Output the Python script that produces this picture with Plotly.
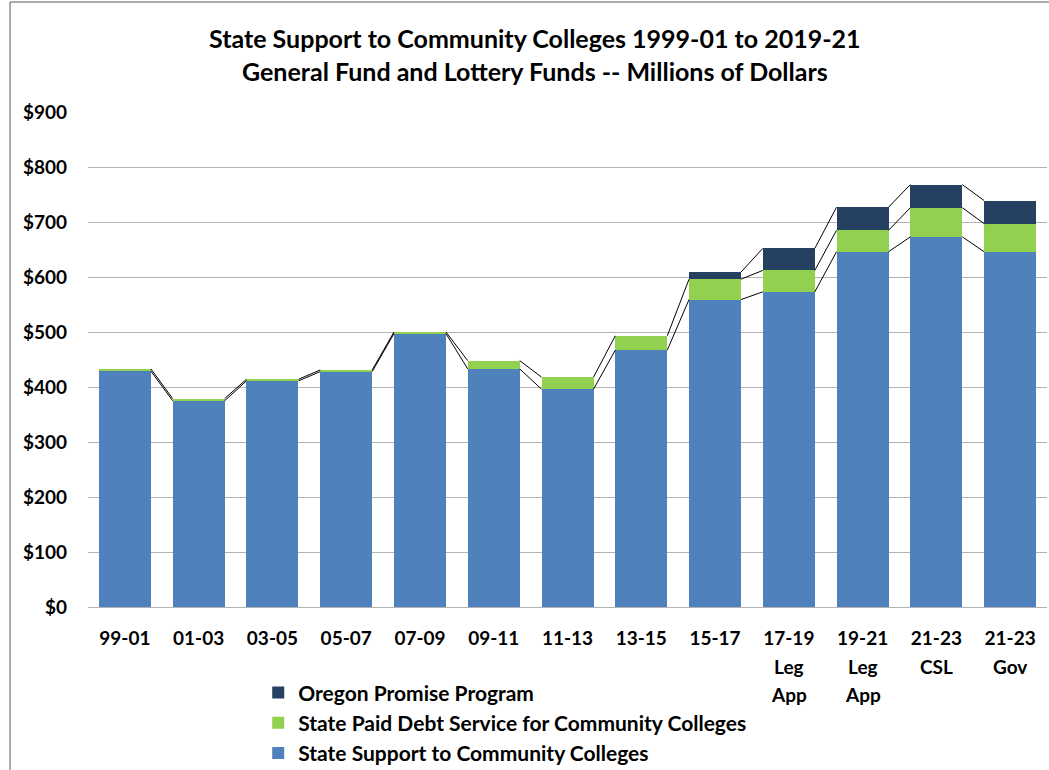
import plotly.graph_objects as go

# ---- data ----
periods = ["99-01", "01-03", "03-05", "05-07", "07-09", "09-11", "11-13",
           "13-15", "15-17", "17-19", "19-21", "21-23", "21-23"]
period_line2 = ["", "", "", "", "", "", "", "", "", "Leg", "Leg", "CSL", "Gov"]
period_line3 = ["", "", "", "", "", "", "", "", "", "App", "App", "", ""]

state_support = [429, 375, 411, 428, 497, 433, 396, 467, 559, 573, 646, 673, 646]
debt_service = [4, 4, 3, 3, 3, 15, 22, 26, 37, 39, 39, 53, 51]
oregon_promise = [None, None, None, None, None, None, None, None, 13, 40, 42, 42, 42]

y_ticks = [0, 100, 200, 300, 400, 500, 600, 700, 800, 900]
y_ticktext = ["$" + str(v) for v in y_ticks]

# ---- style ----
C_SUPPORT = "#4F81BD"
C_DEBT = "#92D050"
C_PROMISE = "#254061"
BAR_W = 0.705
FONT = "Lato"
FS = 19
LEG_FS = 21
TITLE_FS = 25

xs = list(range(len(periods)))

fig = go.Figure()
fig.add_trace(go.Bar(x=xs, y=state_support, name="State Support to Community Colleges",
                     marker=dict(color=C_SUPPORT, line=dict(width=0)), width=BAR_W,
                     legendrank=3))
fig.add_trace(go.Bar(x=xs, y=debt_service, name="State Paid Debt Service for Community Colleges",
                     marker=dict(color=C_DEBT, line=dict(width=0)), width=BAR_W,
                     legendrank=2))
fig.add_trace(go.Bar(x=xs, y=[v if v is not None else 0 for v in oregon_promise],
                     name="Oregon Promise Program",
                     marker=dict(color=C_PROMISE, line=dict(width=0)), width=BAR_W,
                     legendrank=1))

# series lines connecting the tops of each stacked segment
lvl1 = state_support
lvl2 = [a + b for a, b in zip(state_support, debt_service)]
lvl3 = [None if p is None else a + p for a, p in zip(lvl2, oregon_promise)]
for lvl in (lvl1, lvl2, lvl3):
    lx, ly = [], []
    for i in range(len(lvl) - 1):
        if lvl[i] is None or lvl[i + 1] is None:
            continue
        lx += [i + BAR_W / 2, i + 1 - BAR_W / 2, None]
        ly += [lvl[i], lvl[i + 1], None]
    fig.add_trace(go.Scatter(x=lx, y=ly, mode="lines", line=dict(color="#000000", width=1),
                             showlegend=False, hoverinfo="skip"))

annotations = []
# extra tick label lines
for i, (l2, l3) in enumerate(zip(period_line2, period_line3)):
    if l2:
        annotations.append(dict(x=i, y=0, xref="x", yref="y", text=l2, showarrow=False,
                                yanchor="middle", yshift=-59,
                                font=dict(family=FONT, size=FS, color="#000", weight="bold")))
    if l3:
        annotations.append(dict(x=i, y=0, xref="x", yref="y", text=l3, showarrow=False,
                                yanchor="middle", yshift=-87,
                                font=dict(family=FONT, size=FS, color="#000", weight="bold")))
# title lines
annotations.append(dict(x=0.466, y=1.149, xref="paper", yref="paper", showarrow=False,
                        text="State Support to Community Colleges 1999-01 to 2019-21",
                        yanchor="middle", xanchor="center",
                        font=dict(family=FONT, size=TITLE_FS, color="#000", weight="bold")))
annotations.append(dict(x=0.466, y=1.083, xref="paper", yref="paper", showarrow=False,
                        text="General Fund and Lottery Funds -- Millions of Dollars",
                        yanchor="middle", xanchor="center",
                        font=dict(family=FONT, size=TITLE_FS, color="#000", weight="bold")))

fig.update_layout(
    width=1049, height=770,
    margin=dict(l=88, r=2, t=112, b=163, autoexpand=False),
    barmode="stack",
    plot_bgcolor="white", paper_bgcolor="white",
    font=dict(family=FONT, size=FS, color="#000", weight="bold"),
    showlegend=True,
    legend=dict(traceorder="normal", x=0.1775, y=-0.132, xanchor="left", yanchor="top",
                itemwidth=30, bgcolor="rgba(0,0,0,0)",
                font=dict(family=FONT, size=LEG_FS, color="#000", weight="bold")),
    annotations=annotations,
    shapes=[dict(type="rect", xref="paper", yref="paper",
                 x0=-0.0813, x1=1.1, y0=-0.4, y1=1.2222,
                 line=dict(color="#595959", width=1), layer="above")],
)
fig.update_xaxes(range=[-0.5, len(periods) - 0.5], tickmode="array", tickvals=xs,
                 ticktext=periods, showgrid=False, showline=False, zeroline=False,
                 ticks="", ticklabelstandoff=18)
fig.update_yaxes(range=[0, 900], tickmode="array", tickvals=y_ticks, ticktext=y_ticktext,
                 showgrid=True, gridcolor="#B3B3B3", gridwidth=1, zeroline=True,
                 zerolinecolor="#B3B3B3", zerolinewidth=1, showline=False, ticks="",
                 ticklabelstandoff=20)

fig.write_html("out.html")
